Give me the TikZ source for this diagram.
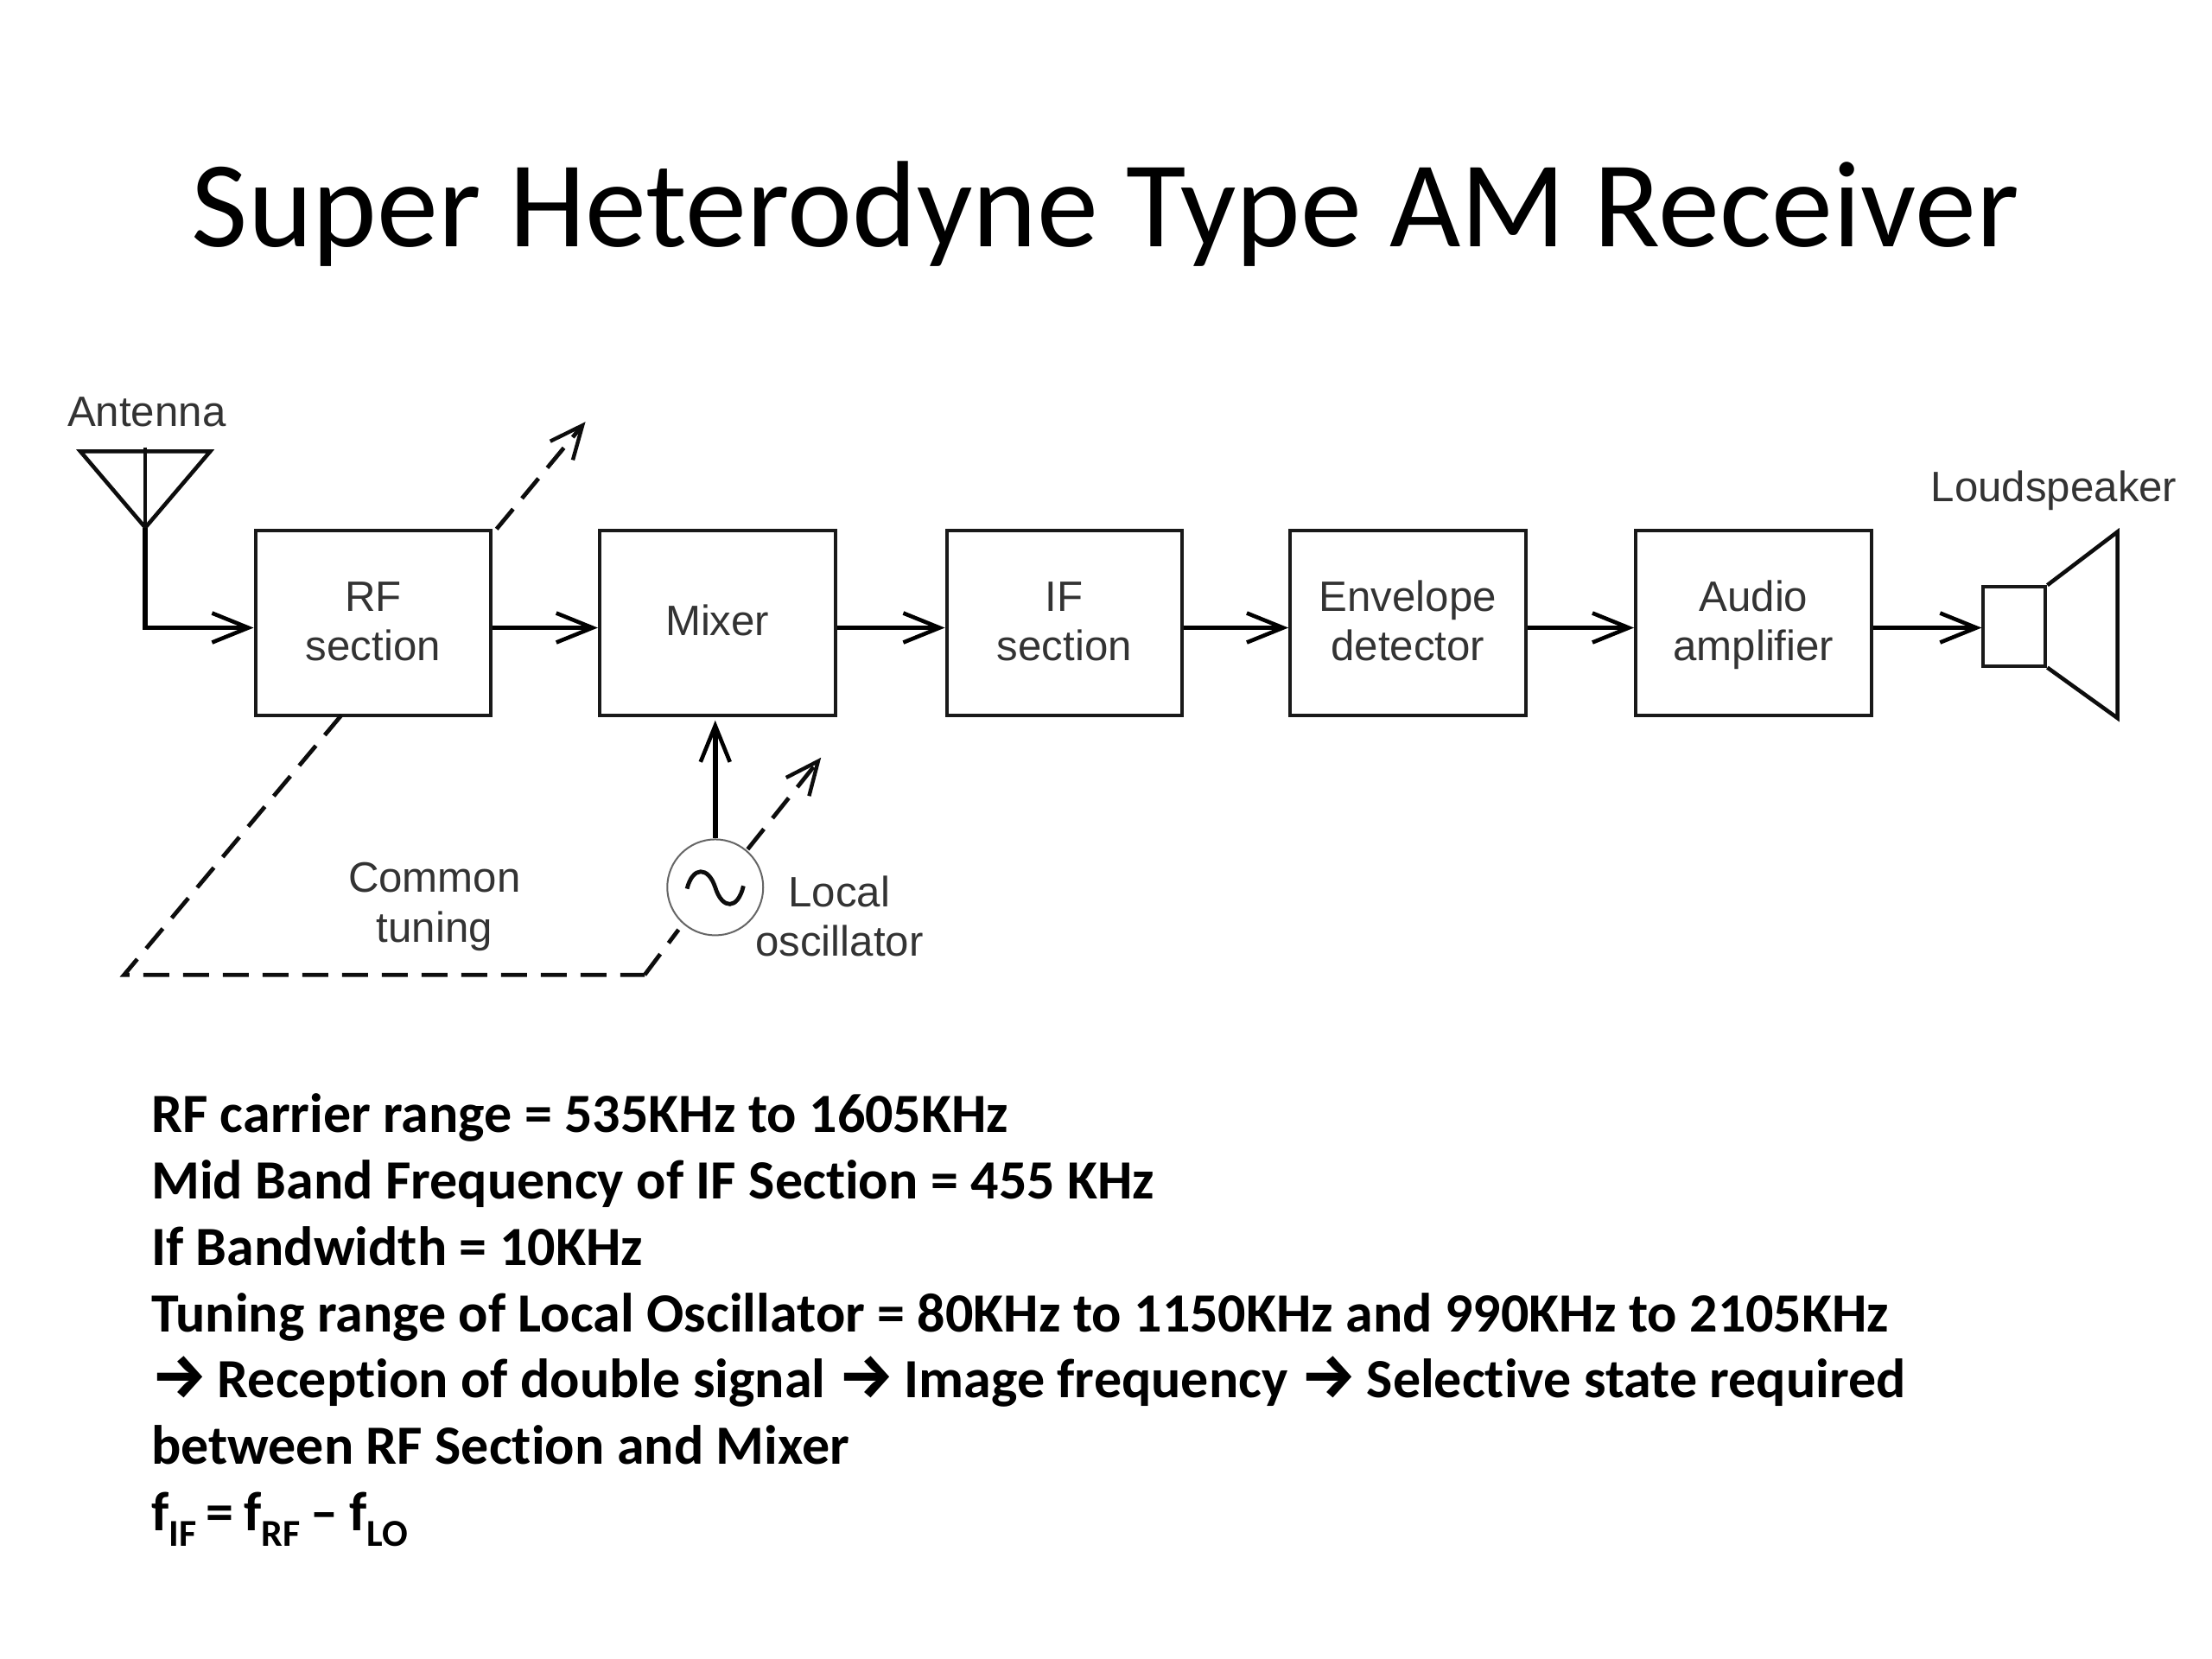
\documentclass[tikz,border=0pt]{standalone}
\usepackage{fontspec}
\usetikzlibrary{arrows.meta}
\setmainfont[Ligatures=NoCommon]{Carlito}
\newfontfamily\labelfont{Liberation Sans}
\newfontfamily\arrowfont{Fira Sans}
\newcommand{\rarr}{{\arrowfont\fontsize{36}{38}\selectfont\bfseries →}\kern-1.3pt}
\newcommand{\lowsub}[1]{\raisebox{-0.28em}{\fontsize{22}{22}\selectfont #1}}
\newcommand{\boxstrut}{\rule{0pt}{23.5pt}}
\tikzset{
  x=0.8163pt,y=-0.8163pt,
  labelstyle/.style={font=\labelfont\fontsize{24.6}{28.6}\selectfont,text=black!80},
  blockbox/.style={draw=black!90,line width=2pt,minimum width=136.3pt,minimum height=106.9pt,inner sep=0pt,align=center,labelstyle},
  wire/.style={draw=black,line width=2.8pt,-{Straight Barb[length=21pt,width=17pt,line width=2.3pt]}},
  plainwire/.style={draw=black!95,line width=2.3pt},
  tuning/.style={draw=black!95,line width=2.4pt,dash pattern=on 15pt off 8pt},
  tuningarrow/.style={tuning,-{Straight Barb[length=19pt,width=17pt,line width=2.2pt]}},
}
\begin{document}
\begin{tikzpicture}
\useasboundingbox (0,0) rectangle (1568,1176);
\fill[white] (0,0) rectangle (1568,1176);
\node[font=\fontsize{71.1}{86}\selectfont,anchor=base] (title) at (783.5,175) {Super Heterodyne Type AM Receiver};

% blocks
\node[blockbox] (rf) at (264.5,441.5) {\boxstrut\strut RF\\\strut section};
\node[blockbox] (mixer) at (508.5,441.5) {\boxstrut\strut Mixer};
\node[blockbox] (ifs) at (754.5,441.5) {\boxstrut\strut IF\\\strut section};
\node[blockbox] (env) at (998,441.5) {\boxstrut\strut Envelope\\\strut detector};
\node[blockbox] (audio) at (1243,441.5) {\boxstrut\strut Audio\\\strut amplifier};
\node[draw=black!90,line width=2pt,minimum width=36pt,minimum height=45.7pt,inner sep=0pt] (spk) at (1428,444) {};
\node[draw=black!60,line width=1pt,circle,minimum size=55.5pt,inner sep=0pt] (osc) at (507,629) {};

% antenna
\coordinate (anttop) at (103,317);
\coordinate (antl) at (57,320);
\coordinate (antr) at (149,320);
\coordinate (apex) at (103,374);
\coordinate (antcorner) at (103,445);
\draw[plainwire,line join=miter] (antl) -- (antr) -- (apex) -- cycle;
\draw[plainwire] (anttop) -- (apex);
\draw[wire] (apex) -- (antcorner) -- (rf.west |- antcorner);
\node[labelstyle] (antlabel) at (104,292) {Antenna};

% chain
\draw[wire] (rf.east |- antcorner) -- (mixer.west |- antcorner);
\draw[wire] (mixer.east |- antcorner) -- (ifs.west |- antcorner);
\draw[wire] (ifs.east |- antcorner) -- (env.west |- antcorner);
\draw[wire] (env.east |- antcorner) -- (audio.west |- antcorner);
\draw[wire] (audio.east |- antcorner) -- (spk.west |- antcorner);

% loudspeaker cone
\coordinate (conetop) at (1501,377);
\coordinate (conebot) at (1501,509);
\draw[plainwire,line join=miter] (spk.north east) -- (conetop) -- (conebot) -- (spk.south east);
\node[labelstyle] (spklabel) at (1456,348) {Loudspeaker};

% oscillator
\draw[wire,shorten >=2pt] (osc.north) -- (osc.north |- mixer.south);
\draw[plainwire,line width=2.4pt] ([shift={(-20,1)}]osc.center) .. controls ([shift={(-16,-15)}]osc.center) and ([shift={(-5,-15)}]osc.center) .. (osc.center) .. controls ([shift={(5,16)}]osc.center) and ([shift={(16,16)}]osc.center) .. ([shift={(20,-1)}]osc.center);
\node[labelstyle] (loc1) at (595,632) {Local};
\node[labelstyle] (loc2) at (595,667) {oscillator};

% common tuning
\coordinate (tunebl) at (88,691);
\coordinate (tunebr) at (457,691);
\coordinate (tuneinc) at (481,659);
\coordinate (rfarrowstart) at (352,375);
\coordinate (rfarrowend) at (415,299);
\coordinate (oscarrowstart) at (530,602);
\coordinate (oscarrowend) at (582,537);
\coordinate (rftune) at (242,507);
\draw[tuning] (rftune) -- (tunebl) -- (tunebr);
\draw[tuning] (tunebr) -- (tuneinc);
\draw[tuningarrow] (rfarrowstart) -- (rfarrowend);
\draw[tuningarrow] (oscarrowstart) -- (oscarrowend);
\node[labelstyle] (ct1) at (308,622) {Common};
\node[labelstyle] (ct2) at (308,660) {tuning};

% notes
\node[anchor=north west,inner sep=0pt,align=left,font=\fontsize{32}{38.4}\selectfont\bfseries] (notes) at (107,775) {%
RF carrier range = 535KHz to 1605KHz\\
Mid Band Frequency of IF Section = 455 KHz\\
If Bandwidth = 10KHz\\
Tuning range of Local Oscillator = 80KHz to 1150KHz and 990KHz to 2105KHz\\
\rarr{} Reception of double signal \rarr{} Image frequency \rarr{} Selective state required\\
between RF Section and Mixer\\
f\lowsub{IF}\kern-1.5pt\ =\ \kern-1.5pt f\lowsub{RF}\kern-1pt\ --\ \kern-1pt f\lowsub{LO}};
\end{tikzpicture}
\end{document}
